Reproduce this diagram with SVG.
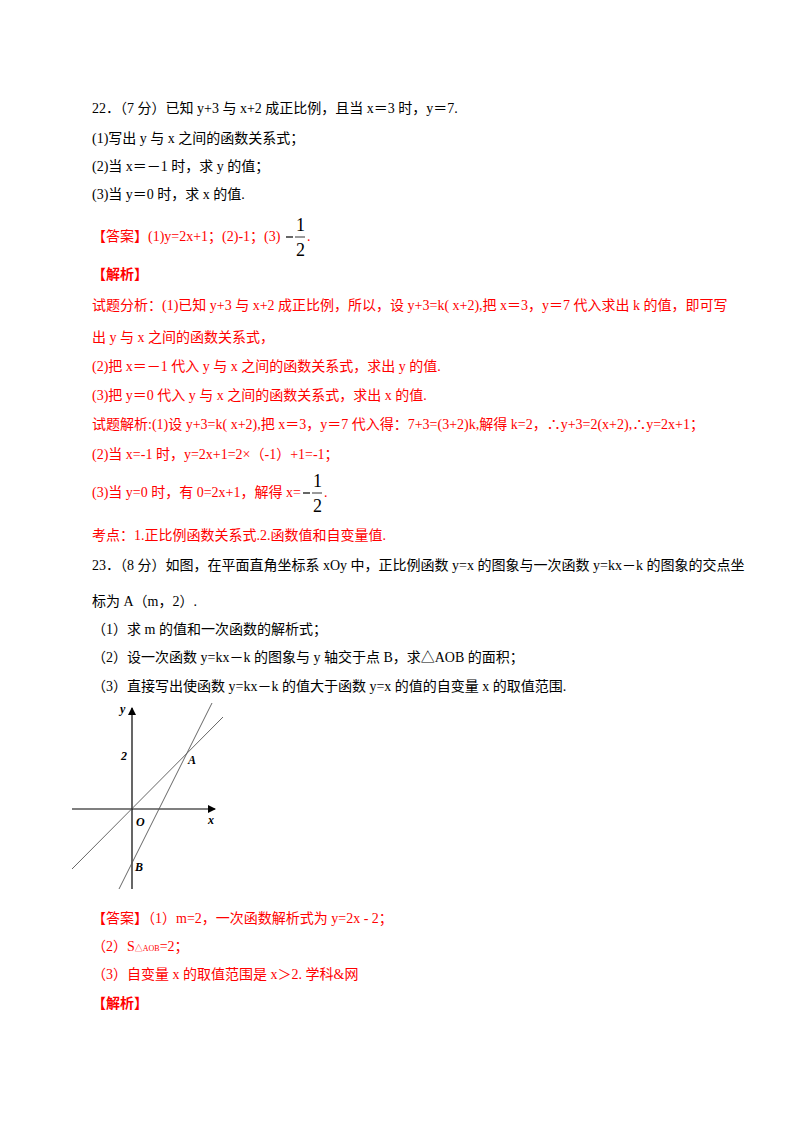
<svg xmlns="http://www.w3.org/2000/svg" width="800" height="1132" viewBox="0 0 800 1132">
<style>
text{font-family:"Liberation Serif","Noto Sans CJK SC",serif;font-size:14px;fill:#000}
.r{fill:#f00}
.b{font-weight:bold}
.f{font-family:"Liberation Serif",serif;font-size:18px}
.it{font-family:"Liberation Serif",serif;font-style:italic;font-weight:bold;font-size:12px}
.ln{stroke:#555;stroke-width:0.9;fill:none}
.ax{stroke:#000;stroke-width:1.2;fill:none}
</style>
<defs><marker id="ar" markerWidth="8" markerHeight="8" refX="7" refY="4" orient="auto" markerUnits="userSpaceOnUse"><path d="M0,0 L8,4 L0,8 Z" fill="#000"/></marker></defs>
<rect width="800" height="1132" fill="#fff"/>
<text x="92" y="113">22．（7 分）已知 y+3 与 x+2 成正比例，且当 x＝3 时，y＝7.</text>
<text x="92" y="143">(1)写出 y 与 x 之间的函数关系式；</text>
<text x="92" y="171">(2)当 x＝－1 时，求 y 的值；</text>
<text x="92" y="199">(3)当 y＝0 时，求 x 的值.</text>
<text x="92" y="241" class="r">【答案】(1)y=2x+1；(2)-1；(3)</text>
<line x1="286" y1="237" x2="293" y2="237" stroke="#000" stroke-width="1.2"/>
<line x1="295" y1="237" x2="305" y2="237" stroke="#000" stroke-width="0.8"/>
<text x="296" y="231" class="f">1</text><text x="296" y="256" class="f">2</text>
<text x="307" y="241" class="r">.</text>
<text x="92" y="279" class="r b">【解析】</text>
<text x="92" y="310" class="r">试题分析：(1)已知 y+3 与 x+2 成正比例，所以，设 y+3=k( x+2),把 x＝3，y＝7 代入求出 k 的值，即可写</text>
<text x="92" y="342" class="r">出 y 与 x 之间的函数关系式，</text>
<text x="92" y="371" class="r">(2)把 x＝－1 代入 y 与 x 之间的函数关系式，求出 y 的值.</text>
<text x="92" y="400" class="r">(3)把 y＝0 代入 y 与 x 之间的函数关系式，求出 x 的值.</text>
<text x="92" y="429" class="r">试题解析:(1)设 y+3=k( x+2),把 x＝3，y＝7 代入得：7+3=(3+2)k,解得 k=2，∴y+3=2(x+2),∴y=2x+1；</text>
<text x="92" y="459" class="r">(2)当 x=-1 时，y=2x+1=2×（-1）+1=-1；</text>
<text x="92" y="497" class="r">(3)当 y=0 时，有 0=2x+1，解得 x=</text>
<line x1="303" y1="493" x2="310" y2="493" stroke="#000" stroke-width="1.2"/>
<line x1="312" y1="493" x2="322" y2="493" stroke="#000" stroke-width="0.8"/>
<text x="313" y="487" class="f">1</text><text x="313" y="512" class="f">2</text>
<text x="324" y="497" class="r">.</text>
<text x="92" y="540" class="r">考点：1.正比例函数关系式.2.函数值和自变量值.</text>
<text x="92" y="570">23．（8 分）如图，在平面直角坐标系 xOy 中，正比例函数 y=x 的图象与一次函数 y=kx－k 的图象的交点坐</text>
<text x="92" y="606">标为 A（m，2）.</text>
<text x="92" y="634">（1）求 m 的值和一次函数的解析式；</text>
<text x="92" y="662">（2）设一次函数 y=kx－k 的图象与 y 轴交于点 B，求△AOB 的面积；</text>
<text x="92" y="691">（3）直接写出使函数 y=kx－k 的值大于函数 y=x 的值的自变量 x 的取值范围.</text>
<g id="figure">
<line class="ax" x1="132" y1="889" x2="132" y2="708" marker-end="url(#ar)"/>
<line class="ax" x1="72" y1="809" x2="215" y2="809" marker-end="url(#ar)"/>
<line class="ln" x1="72" y1="869" x2="223" y2="717"/>
<line class="ln" x1="212" y1="703" x2="119" y2="889"/>
<text x="120" y="713" class="it">y</text>
<text x="121" y="760" class="it">2</text>
<text x="188" y="764" class="it">A</text>
<text x="136" y="826" class="it">O</text>
<text x="208" y="824" class="it">x</text>
<text x="135" y="871" class="it">B</text>
</g>
<text x="92" y="923" class="r">【答案】（1）m=2，一次函数解析式为 y=2x - 2；</text>
<text x="92" y="951" class="r">（2）S<tspan font-size="8">△AOB</tspan>=2；</text>
<text x="92" y="979" class="r">（3）自变量 x 的取值范围是 x＞2.  学科&amp;网</text>
<text x="92" y="1008" class="r b">【解析】</text>
</svg>
